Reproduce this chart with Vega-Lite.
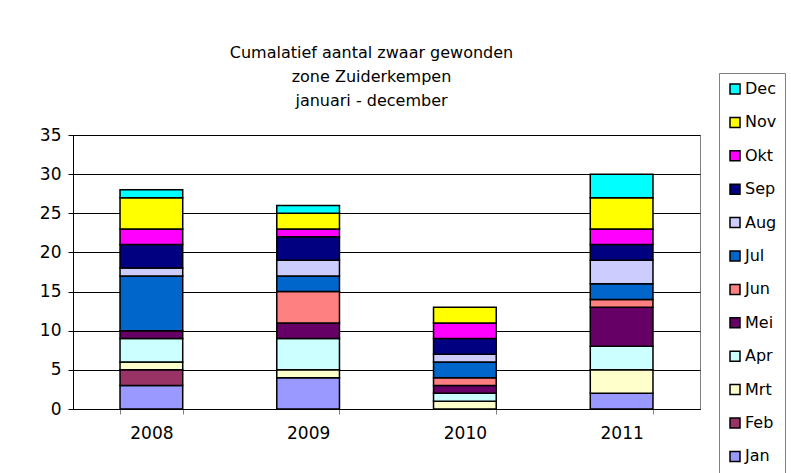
{
  "$schema": "https://vega.github.io/schema/vega-lite/v6.json",
  "autosize": "none",
  "width": 627,
  "height": 274,
  "padding": {"left": 73, "top": 135, "right": 91, "bottom": 64},
  "background": "white",
  "title": {
    "text": ["Cumalatief aantal zwaar gewonden", "zone Zuiderkempen", "januari - december"],
    "font": "DejaVu Sans",
    "fontSize": 16,
    "fontWeight": "normal",
    "lineHeight": 24,
    "color": "black",
    "anchor": "middle",
    "dx": -15,
    "dy": 60,
    "offset": 24
  },
  "data": {
    "values": [
      {"year": "2008", "month": "Jan", "idx": 1, "n": 3},
      {"year": "2008", "month": "Feb", "idx": 2, "n": 2},
      {"year": "2008", "month": "Mrt", "idx": 3, "n": 1},
      {"year": "2008", "month": "Apr", "idx": 4, "n": 3},
      {"year": "2008", "month": "Mei", "idx": 5, "n": 1},
      {"year": "2008", "month": "Jul", "idx": 7, "n": 7},
      {"year": "2008", "month": "Aug", "idx": 8, "n": 1},
      {"year": "2008", "month": "Sep", "idx": 9, "n": 3},
      {"year": "2008", "month": "Okt", "idx": 10, "n": 2},
      {"year": "2008", "month": "Nov", "idx": 11, "n": 4},
      {"year": "2008", "month": "Dec", "idx": 12, "n": 1},
      {"year": "2009", "month": "Jan", "idx": 1, "n": 4},
      {"year": "2009", "month": "Mrt", "idx": 3, "n": 1},
      {"year": "2009", "month": "Apr", "idx": 4, "n": 4},
      {"year": "2009", "month": "Mei", "idx": 5, "n": 2},
      {"year": "2009", "month": "Jun", "idx": 6, "n": 4},
      {"year": "2009", "month": "Jul", "idx": 7, "n": 2},
      {"year": "2009", "month": "Aug", "idx": 8, "n": 2},
      {"year": "2009", "month": "Sep", "idx": 9, "n": 3},
      {"year": "2009", "month": "Okt", "idx": 10, "n": 1},
      {"year": "2009", "month": "Nov", "idx": 11, "n": 2},
      {"year": "2009", "month": "Dec", "idx": 12, "n": 1},
      {"year": "2010", "month": "Mrt", "idx": 3, "n": 1},
      {"year": "2010", "month": "Apr", "idx": 4, "n": 1},
      {"year": "2010", "month": "Mei", "idx": 5, "n": 1},
      {"year": "2010", "month": "Jun", "idx": 6, "n": 1},
      {"year": "2010", "month": "Jul", "idx": 7, "n": 2},
      {"year": "2010", "month": "Aug", "idx": 8, "n": 1},
      {"year": "2010", "month": "Sep", "idx": 9, "n": 2},
      {"year": "2010", "month": "Okt", "idx": 10, "n": 2},
      {"year": "2010", "month": "Nov", "idx": 11, "n": 2},
      {"year": "2011", "month": "Jan", "idx": 1, "n": 2},
      {"year": "2011", "month": "Mrt", "idx": 3, "n": 3},
      {"year": "2011", "month": "Apr", "idx": 4, "n": 3},
      {"year": "2011", "month": "Mei", "idx": 5, "n": 5},
      {"year": "2011", "month": "Jun", "idx": 6, "n": 1},
      {"year": "2011", "month": "Jul", "idx": 7, "n": 2},
      {"year": "2011", "month": "Aug", "idx": 8, "n": 3},
      {"year": "2011", "month": "Sep", "idx": 9, "n": 2},
      {"year": "2011", "month": "Okt", "idx": 10, "n": 2},
      {"year": "2011", "month": "Nov", "idx": 11, "n": 4},
      {"year": "2011", "month": "Dec", "idx": 12, "n": 3}
    ]
  },
  "mark": {"type": "bar", "stroke": "black", "strokeWidth": 1.5},
  "encoding": {
    "x": {
      "field": "year",
      "type": "nominal",
      "scale": {"paddingInner": 0.6, "paddingOuter": 0.3},
      "axis": {
        "title": null,
        "labelAngle": 0,
        "labelFont": "DejaVu Sans",
        "labelFontSize": 17,
        "labelColor": "black",
        "labelPadding": 11,
        "tickBand": "extent",
        "tickColor": "#808080",
        "tickSize": 5,
        "domainColor": "black",
        "grid": false
      }
    },
    "y": {
      "field": "n",
      "type": "quantitative",
      "stack": "zero",
      "scale": {"domain": [0, 35], "nice": false},
      "axis": {
        "title": null,
        "values": [0, 5, 10, 15, 20, 25, 30, 35],
        "labelFont": "DejaVu Sans",
        "labelFontSize": 17,
        "labelColor": "black",
        "labelPadding": 7,
        "tickColor": "black",
        "tickSize": 5,
        "domainColor": "black",
        "grid": true,
        "gridColor": "black",
        "gridOpacity": 1
      }
    },
    "color": {
      "field": "month",
      "type": "nominal",
      "scale": {
        "domain": ["Dec", "Nov", "Okt", "Sep", "Aug", "Jul", "Jun", "Mei", "Apr", "Mrt", "Feb", "Jan"],
        "range": ["#00FFFF", "#FFFF00", "#FF00FF", "#000080", "#CCCCFF", "#0066CC", "#FF8080", "#660066", "#CCFFFF", "#FFFFCC", "#993366", "#9999FF"]
      },
      "legend": {
        "title": null,
        "orient": "none",
        "legendX": 646,
        "legendY": -62,
        "strokeColor": "#808080",
        "padding": 8,
        "symbolType": "square",
        "symbolSize": 100,
        "symbolStrokeColor": "black",
        "symbolStrokeWidth": 1.5,
        "symbolOpacity": 1,
        "labelFont": "DejaVu Sans",
        "labelFontSize": 16,
        "labelColor": "black",
        "labelOffset": 2,
        "rowPadding": 17.4
      }
    },
    "order": {"field": "idx", "type": "quantitative", "sort": "ascending"}
  },
  "config": {
    "view": {"stroke": "#808080"}
  }
}
